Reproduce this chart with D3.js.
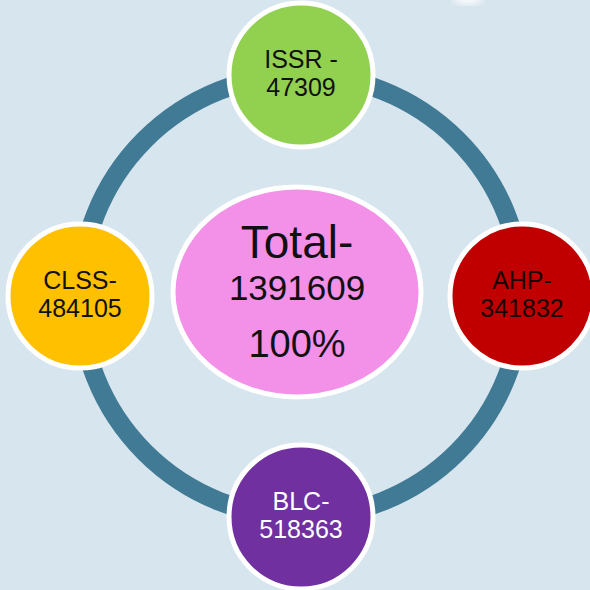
<!DOCTYPE html>
<html>
<head>
<meta charset="utf-8">
<script src="https://cdn.jsdelivr.net/npm/d3@7"></script>
<style>
  html, body { margin: 0; padding: 0; background: #d7e5ee; }
  svg { display: block; }
</style>
</head>
<body>
<svg></svg>
<script>
const WIDTH = 590;
const HEIGHT = 590;

// data
const categories = ["ISSR", "AHP", "BLC", "CLSS"];
const counts = [47309, 341832, 518363, 484105];
const labelSep = [" -", "-", "-", "-"];
const fills = ["#92d050", "#c00000", "#7030a0", "#ffc000"];
const textColors = ["#111", "#1a0000", "#ffffff", "#111"];
const totalLabel = "Total-";
const total = 1391609;
const totalPct = "100%";

var svg = d3.select("svg")
    .attr("width", WIDTH)
    .attr("height", HEIGHT)
    .attr("viewBox", `0 0 ${WIDTH} ${HEIGHT}`);

const CENTER = {x: 301, y: 296};
const RING_R = 221;
const NODE_R = 72;

svg.append("rect")
    .attr("width", WIDTH)
    .attr("height", HEIGHT)
    .attr("fill", "#d7e5ee");

// little white glow at the top edge
var defs = svg.append("defs");
defs.append("filter").attr("id", "glow")
  .append("feGaussianBlur").attr("stdDeviation", 4);
svg.append("ellipse")
    .attr("cx", 468).attr("cy", -2)
    .attr("rx", 14).attr("ry", 6)
    .attr("fill", "#ffffff")
    .attr("filter", "url(#glow)");

// angle around the ring for each category (top, right, bottom, left)
var angle = d3.scalePoint()
    .domain(categories)
    .range([-90, 180]);

var rad = (deg) => deg * Math.PI / 180;
var nodeX = (c) => CENTER.x + RING_R * Math.cos(rad(angle(c)));
var nodeY = (c) => CENTER.y + RING_R * Math.sin(rad(angle(c)));

svg.append("circle")
    .attr("cx", CENTER.x)
    .attr("cy", CENTER.y)
    .attr("r", RING_R)
    .attr("fill", "none")
    .attr("stroke", "#417a94")
    .attr("stroke-width", 19);

var nodes = svg.selectAll("g.node")
    .data(categories)
    .join("g")
    .attr("class", "node")
    .attr("transform", d => `translate(${nodeX(d)},${nodeY(d)})`);

nodes.append("circle")
    .attr("r", NODE_R)
    .attr("fill", (d, i) => fills[i])
    .attr("stroke", "#ffffff")
    .attr("stroke-width", 5);

// two separate text lines per node
nodes.each(function(d, i) {
    var g = d3.select(this);
    var lines = [d + labelSep[i], String(counts[i])];
    g.selectAll("text")
        .data(lines)
        .join("text")
        .attr("text-anchor", "middle")
        .attr("y", (t, j) => j === 0 ? -7 : 21)
        .style("font-family", "Liberation Sans, Arial, sans-serif")
        .style("font-size", "25px")
        .attr("fill", textColors[i])
        .text(t => t);
});

// center ellipse
var mid = svg.append("g")
    .attr("transform", `translate(297,292)`);

mid.append("ellipse")
    .attr("rx", 124)
    .attr("ry", 105)
    .attr("fill", "#f390e8")
    .attr("stroke", "#ffffff")
    .attr("stroke-width", 5);

var midLines = [
    {t: totalLabel, size: 46, y: -34},
    {t: String(total), size: 35, y: 8},
    {t: totalPct, size: 38, y: 65}
];

mid.selectAll("text")
    .data(midLines)
    .join("text")
    .attr("text-anchor", "middle")
    .attr("y", d => d.y)
    .style("font-family", "Liberation Sans, Arial, sans-serif")
    .style("font-size", d => d.size + "px")
    .attr("fill", "#111")
    .text(d => d.t);
</script>
</body>
</html>
